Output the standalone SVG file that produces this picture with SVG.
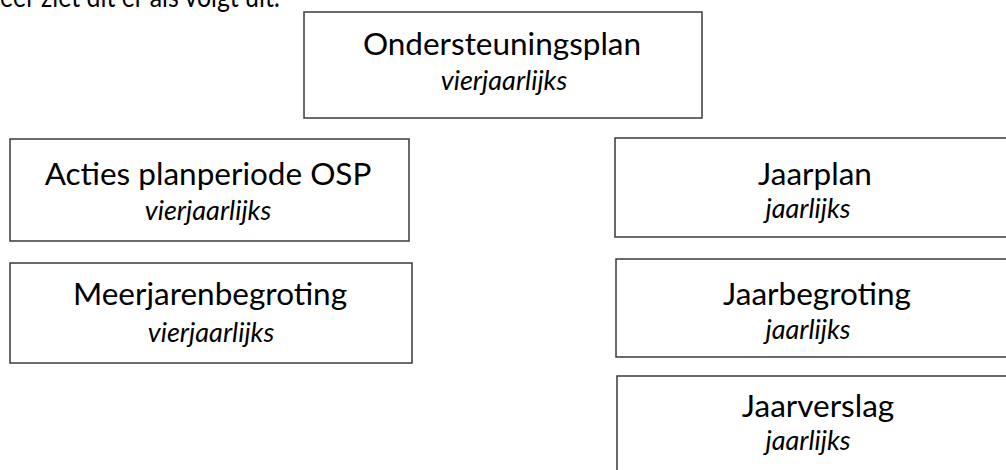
<svg xmlns="http://www.w3.org/2000/svg" width="1006" height="470" viewBox="0 0 1006 470">
<style>
.box{fill:#fff;stroke:#3a3a3a;stroke-width:1.5}
.t{font-family:Lato,"Open Sans",sans-serif;font-size:31.5px;fill:#000;text-anchor:middle}
.s{font-family:Lato,"Open Sans",sans-serif;font-size:27px;font-style:italic;fill:#000;text-anchor:middle}
.h{font-family:Lato,"Open Sans",sans-serif;font-size:28px;fill:#000}
</style>
<rect width="1006" height="470" fill="#fff"/>
<text class="h" x="0" y="7" textLength="280" lengthAdjust="spacingAndGlyphs">eer ziet dit er als volgt uit:</text>
<g id="ondersteuningsplan">
<rect class="box" x="304" y="12" width="398" height="106"/>
<text class="t" x="502" y="55">Ondersteuningsplan</text>
<text class="s" x="504" y="90">vierjaarlijks</text>
</g>
<g id="acties">
<rect class="box" x="10" y="139" width="399" height="102"/>
<text class="t" x="208" y="185">Acties planperiode OSP</text>
<text class="s" x="208" y="220">vierjaarlijks</text>
</g>
<g id="meerjarenbegroting">
<rect class="box" x="10" y="263" width="402" height="100"/>
<text class="t" x="210" y="305">Meerjarenbegroting</text>
<text class="s" x="211" y="342">vierjaarlijks</text>
</g>
<g id="jaarplan">
<rect class="box" x="615" y="138" width="400" height="99"/>
<text class="t" x="815" y="185">Jaarplan</text>
<text class="s" x="808" y="218">jaarlijks</text>
</g>
<g id="jaarbegroting">
<rect class="box" x="616" y="259" width="400" height="98"/>
<text class="t" x="817" y="305">Jaarbegroting</text>
<text class="s" x="808" y="339">jaarlijks</text>
</g>
<g id="jaarverslag">
<rect class="box" x="617" y="376" width="400" height="110"/>
<text class="t" x="818" y="417">Jaarverslag</text>
<text class="s" x="808" y="450">jaarlijks</text>
</g>
<g id="connectors"></g>
</svg>
